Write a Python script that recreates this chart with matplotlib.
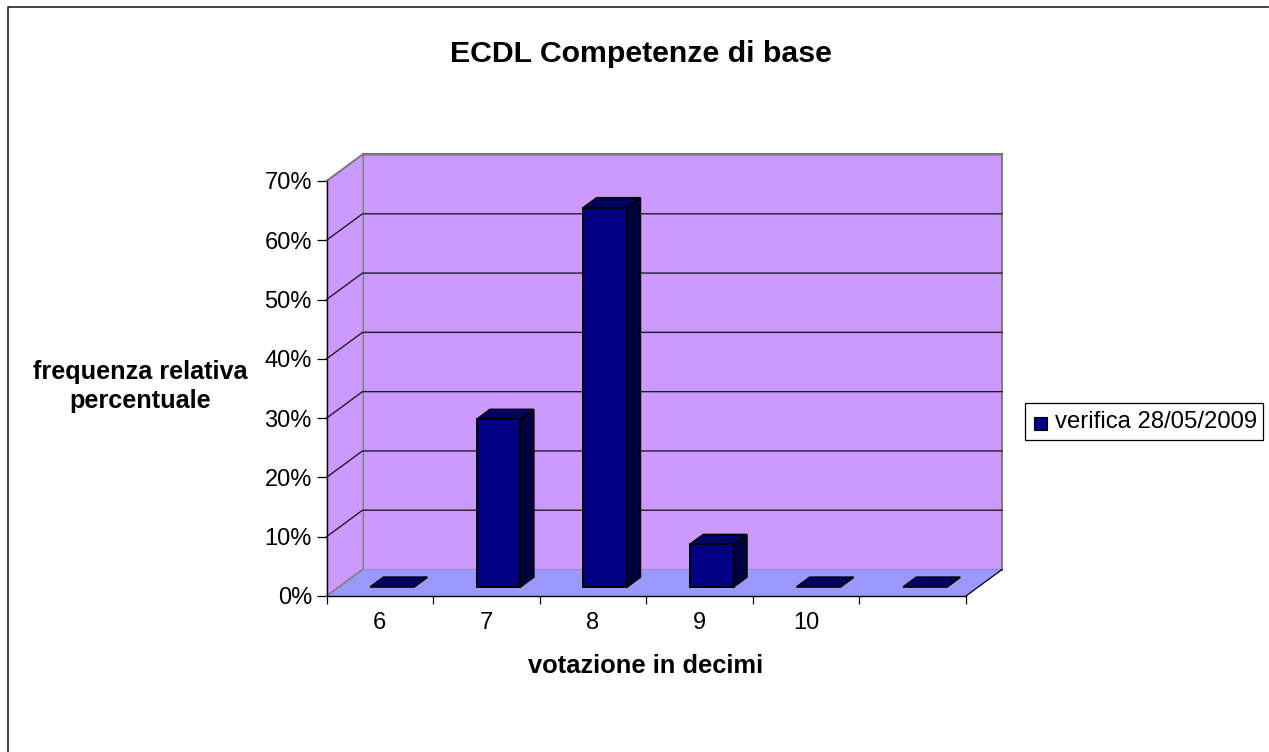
import matplotlib
matplotlib.use("Agg")
import matplotlib.pyplot as plt
from matplotlib.lines import Line2D
from matplotlib.patches import Polygon, Rectangle

# ---- data ----
categories = ["6", "7", "8", "9", "10", ""]
values = [0, 28.3, 64, 7.2, 0, 0]
y_ticks = [0, 10, 20, 30, 40, 50, 60, 70]
title = "ECDL Competenze di base"
x_title = "votazione in decimi"
y_title = "frequenza relativa\npercentuale"
series_name = "verifica 28/05/2009"

W, H = 1269, 752
plt.rcParams["font.family"] = ["Liberation Sans", "DejaVu Sans"]

WALL = "#cc99ff"
FLOOR = "#9999ff"
BAR_FRONT = "#000080"
BAR_TOP = "#000066"
BAR_SIDE = "#00003f"
GREY = "#808080"

fig = plt.figure(figsize=(W / 100, H / 100), dpi=100)
fig.patch.set_facecolor("white")

# axes = the front plane of the fake 3d box
left, right, bottom, top = 326.5, 966, 596, 181
ax = fig.add_axes([left / W, 1 - bottom / H, (right - left) / W, (bottom - top) / H])
ax.set_xlim(0, len(categories))
ax.set_ylim(0, 70)
ax.patch.set_visible(False)
for s in ["top", "right"]:
    ax.spines[s].set_visible(False)
for s in ["left", "bottom"]:
    ax.spines[s].set_color("black")
    ax.spines[s].set_linewidth(1.0)
    ax.spines[s].set_zorder(6)

# depth of the box, in data units
DX = 36 / ((right - left) / len(categories))
DY = 26.5 / ((bottom - top) / 70)


def pt(x, y, d=0.0):
    return (x + d * DX, y + d * DY)


def poly(points, face, edge="none", lw=0.0, z=1):
    ax.add_patch(Polygon(points, closed=True, facecolor=face, edgecolor=edge,
                         linewidth=lw, clip_on=False, zorder=z))


xmax = len(categories)
ymax = y_ticks[-1]

# walls and floor
poly([pt(0, 0, 1), pt(xmax, 0, 1), pt(xmax, ymax, 1), pt(0, ymax, 1)], WALL, GREY, 1.5, 1)
poly([pt(0, 0, 0), pt(0, 0, 1), pt(0, ymax, 1), pt(0, ymax, 0)], WALL, "none", 0, 1)
poly([pt(0, 0, 0), pt(xmax, 0, 0), pt(xmax, 0, 1), pt(0, 0, 1)], FLOOR, "none", 0, 2)
ax.plot(*zip(pt(0, 0, 0), pt(0, 0, 1)), color=GREY, lw=1.2, clip_on=False, zorder=3)
ax.plot(*zip(pt(0, ymax, 0), pt(0, ymax, 1), pt(xmax, ymax, 1)), color=GREY, lw=1.2, clip_on=False, zorder=3)
ax.plot(*zip(pt(xmax, 0, 0), pt(xmax, 0, 1)), color="black", lw=0.9, clip_on=False, zorder=3)

# gridlines on side wall and back wall
for t in y_ticks[1:]:
    ax.plot(*zip(pt(0, t, 0), pt(0, t, 1), pt(xmax, t, 1)), color="#1c1c2c", lw=1.0,
            clip_on=False, zorder=2)

# bars
bar_w = 0.41
d0, d1 = 0.34, 0.71
for i, v in enumerate(values):
    x0 = i + 0.5 - bar_w / 2
    x1 = x0 + bar_w
    poly([pt(x1, 0, d0), pt(x1, 0, d1), pt(x1, v, d1), pt(x1, v, d0)], BAR_SIDE, "black", 1.2, 4)
    poly([pt(x0, v, d0), pt(x1, v, d0), pt(x1, v, d1), pt(x0, v, d1)], BAR_TOP, "black", 1.2, 4)
    if v > 0:
        poly([pt(x0, 0, d0), pt(x1, 0, d0), pt(x1, v, d0), pt(x0, v, d0)], BAR_FRONT, "black", 1.4, 5)

# ticks
ax.set_yticks(y_ticks)
ax.set_yticklabels([f"{t}%" for t in y_ticks], fontsize=17)
ax.set_xticks(range(len(categories) + 1))
ax.set_xticklabels([])
ax.tick_params(axis="x", length=6, width=0.9, color="black")
ax.tick_params(axis="y", length=7, width=0.9, color="black", pad=3.5)
for i, c in enumerate(categories):
    ax.text(i + 0.5, -4.55, c, ha="center", va="center", fontsize=17)

# titles
fig.text(641 / W, 1 - 53.5 / H, title, ha="center", va="center", fontsize=21.8, fontweight="bold")
fig.text(646 / W, 1 - 666 / H, x_title, ha="center", va="center", fontsize=18.4, fontweight="bold")
fig.text(140 / W, 1 - 386.5 / H, y_title, ha="center", va="center", fontsize=18.2,
         fontweight="bold", linespacing=1.25)

# legend
fig.add_artist(Rectangle((1025 / W, 1 - 440 / H), 238 / W, 37 / H, transform=fig.transFigure,
                         facecolor="white", edgecolor="black", linewidth=0.9))
fig.add_artist(Rectangle((1034 / W, 1 - 429.5 / H), 13 / W, 13 / H, transform=fig.transFigure,
                         facecolor=BAR_FRONT, edgecolor="black", linewidth=0.8))
fig.text(1055 / W, 1 - 422 / H, series_name, ha="left", va="center", fontsize=17.2)

# outer frame of the chart area: only top and left edges show
fig.add_artist(Line2D([7.5 / W, 7.5 / W, 1 - 1 / W], [0, 1 - 6.5 / H, 1 - 6.5 / H],
                      transform=fig.transFigure, color="#222222", linewidth=1.2))

fig.savefig("out.png", dpi=100)
